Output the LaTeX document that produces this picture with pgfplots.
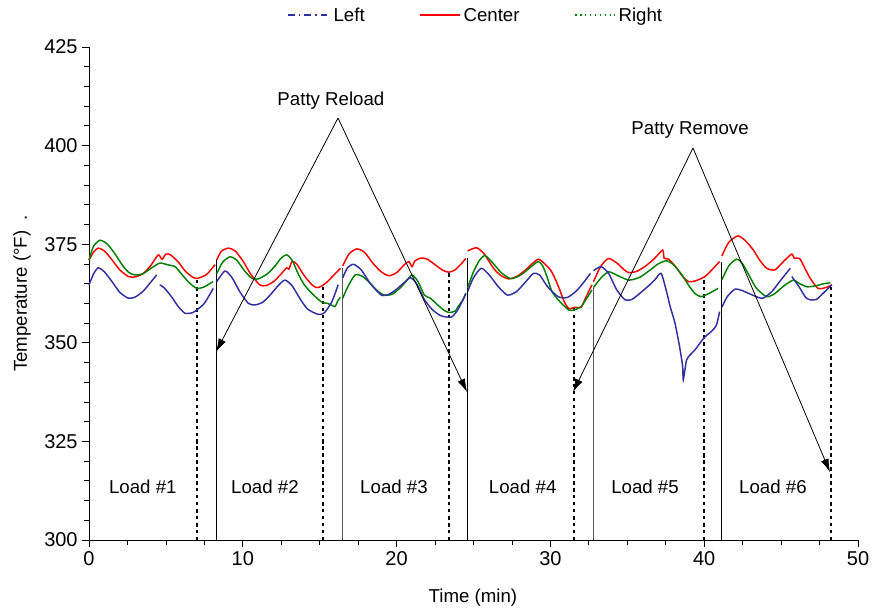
\documentclass[border=0pt]{standalone}
\usepackage{fontspec}
\setmainfont{Liberation Sans}
\usepackage{pgfplots}
\pgfplotsset{compat=1.18}
\usetikzlibrary{calc,arrows.meta}
\definecolor{leftc}{RGB}{48,48,160}
\definecolor{centerc}{RGB}{255,0,0}
\definecolor{rightc}{RGB}{0,128,0}
\begin{document}
\begin{tikzpicture}
\begin{axis}[
  name=ax,
  scale only axis,
  width=576.75pt, height=369.75pt,
  xmin=0, xmax=50, ymin=300, ymax=425,
  axis lines*=left,
  xtick={0,10,20,30,40,50},
  ytick={300,325,350,375,400,425},
  minor x tick num=3,
  minor y tick num=4,
  tick align=outside,
  major tick length=5pt,
  minor tick length=4pt,
  tick style={black, line width=0.6pt},
  axis line style={black, line width=0.6pt},
  font=\fontsize{14}{16.5}\selectfont,
  tick label style={font=\fontsize{15}{17}\selectfont},
  /pgf/number format/assume math mode=true,
  xlabel={Time (min)},
  ylabel={Temperature (°F)\ \ .},
  xlabel style={at={(axis description cs:0.4993,-0.1176)}, anchor=center},
  ylabel style={at={(axis description cs:-0.0871,0.5)}, anchor=center},
  clip=false,
]
% vertical markers: dotted (unload) and solid (reload)
\addplot[black, line width=2pt, dash pattern=on 2.6pt off 2.6pt, forget plot] coordinates {(7.02,300) (7.02,366.3)};
\addplot[black, line width=2pt, dash pattern=on 2.6pt off 2.6pt, forget plot] coordinates {(15.21,300) (15.21,364.4)};
\addplot[black, line width=2pt, dash pattern=on 2.6pt off 2.6pt, forget plot] coordinates {(23.41,300) (23.41,367.9)};
\addplot[black, line width=2pt, dash pattern=on 2.6pt off 2.6pt, forget plot] coordinates {(31.53,300) (31.53,359.0)};
\addplot[black, line width=2pt, dash pattern=on 2.6pt off 2.6pt, forget plot] coordinates {(39.99,300) (39.99,366.8)};
\addplot[black, line width=2pt, dash pattern=on 2.6pt off 2.6pt, forget plot] coordinates {(48.24,300) (48.24,364.7)};
\addplot[black, line width=0.6pt, forget plot] coordinates {(8.26,300) (8.26,371.0)};
\addplot[black, line width=0.6pt, forget plot] coordinates {(16.45,300) (16.45,368.9)};
\addplot[black, line width=0.6pt, forget plot] coordinates {(24.58,300) (24.58,371.4)};
\addplot[black, line width=0.6pt, forget plot] coordinates {(32.77,300) (32.77,363.8)};
\addplot[black, line width=0.6pt, forget plot] coordinates {(41.09,300) (41.09,370.6)};

\pgfplotsset{every axis plot/.append style={line width=1.1pt, smooth, tension=0.4, forget plot}}
% Center (red)
\addplot[centerc] coordinates {(0,371) (0.3,373) (0.6,374) (1.0,373.3) (1.5,371) (2.0,368.5) (2.56,366.8) (3.0,366.7) (3.5,367.5) (4.0,369.5) (4.5,372.3) (4.75,371.2) (5.0,372.5) (5.3,372.3) (5.8,370.5) (6.3,368) (6.8,366.5) (7.0,366.3) (7.4,366.8) (7.7,367.5) (8.0,368.9) (8.2,369.8)};
\addplot[centerc] coordinates {(8.3,371) (8.6,373.2) (9.06,374) (9.5,373.3) (10.0,370.8) (10.5,367.5) (11.1,364.7) (11.5,364.5) (12.0,365.5) (12.5,367.5) (12.85,369) (13.0,368.7) (13.2,370.6) (13.5,370) (14.0,367) (14.5,364.7) (14.8,364) (15.1,364.3) (15.5,365.5) (16.0,367.5) (16.35,368.9)};
\addplot[centerc] coordinates {(16.5,369.5) (16.9,372.5) (17.4,373.8) (17.9,373) (18.5,370) (19.0,368) (19.5,367) (20.0,367.8) (20.5,369.8) (20.8,370.6) (21.0,369.3) (21.2,370.8) (21.6,371.5) (22.0,371.2) (22.5,369.8) (23.0,368.4) (23.4,367.9) (23.8,368.5) (24.2,370) (24.5,371.4)};
\addplot[centerc] coordinates {(24.62,373.3) (25.2,374.1) (25.7,372.5) (26.3,368.9) (26.8,367) (27.3,366.2) (27.8,366.8) (28.3,368.2) (28.8,370) (29.2,371.2) (29.5,370.5) (30.0,368.5) (30.3,366.3) (30.6,363.5) (30.9,360.4) (31.2,358.7) (31.6,359) (32.0,359) (32.3,361.5) (32.7,364.7)};
\addplot[centerc] coordinates {(32.8,365.5) (33.2,368.9) (33.5,370.5) (33.8,371.4) (34.3,370.3) (34.8,368.5) (35.1,367.8) (35.6,368.1) (36.2,369.5) (36.8,371.5) (37.3,373.5) (37.4,371.4) (37.7,371.2) (38.2,369) (38.6,366.8) (39.0,365.5) (39.5,365.8) (40.05,366.8) (40.5,368.5) (41.0,370.6)};
\addplot[centerc] coordinates {(41.15,372) (41.6,375.5) (42.2,377.1) (42.7,375.8) (43.2,373.5) (43.6,371) (44.06,368.9) (44.6,368.5) (45.2,370.8) (45.7,372.5) (45.85,371.4) (46.2,371.4) (46.6,368.5) (46.9,366.3) (47.4,363.8) (47.9,364) (48.3,364.7)};
% Right (green)
\addplot[rightc] coordinates {(0,371) (0.3,374.5) (0.72,376) (1.2,375) (1.7,372.5) (2.2,369.5) (2.6,367.8) (3.0,367.2) (3.5,367.5) (4.0,368.8) (4.6,370.2) (5.1,369.8) (5.6,369.3) (6.0,367.5) (6.5,365.3) (7.0,363.8) (7.5,364.2) (8.06,365.5)};
\addplot[rightc] coordinates {(8.3,367.5) (8.7,370.5) (9.17,371.8) (9.6,371) (10.1,368.3) (10.6,366.3) (11.0,366.2) (11.6,367.5) (12.1,369.5) (12.5,371.5) (12.85,372.3) (13.2,371) (13.6,367.5) (14.0,364.7) (14.5,362.5) (15.1,360.4) (15.5,360) (15.8,359.5) (16.0,359.2) (16.2,360.8) (16.35,361.5)};
\addplot[rightc] coordinates {(16.5,361.3) (16.8,364) (17.3,367.2) (17.8,366.8) (18.3,365) (18.8,363) (19.2,362.1) (19.7,362.3) (20.2,363.8) (20.6,365.5) (21.0,367.2) (21.4,365.5) (21.8,362.1) (22.2,361.3) (22.7,359.5) (23.1,358.2) (23.4,357.7) (23.8,358) (24.0,359.2) (24.3,360.8) (24.5,362.6)};
\addplot[rightc] coordinates {(24.62,364) (25.0,368) (25.4,371) (25.75,372.1) (26.2,370.5) (26.8,367.8) (27.4,366.3) (28.0,367) (28.6,368.8) (29.2,370.6) (29.5,369.5) (29.8,366.5) (30.1,363) (30.6,360.5) (31.2,358.3) (31.6,358.4) (32.0,359.2) (32.4,361.5) (32.7,363.4)};
\addplot[rightc] coordinates {(32.8,364) (33.3,366.5) (33.8,368) (34.4,367) (35.1,365.9) (35.8,366.6) (36.5,368.5) (37.0,370) (37.55,370.8) (38.0,369.8) (38.5,367.5) (39.0,364.5) (39.4,362.5) (39.8,361.7) (40.3,362.5) (40.9,363.8)};
\addplot[rightc] coordinates {(41.15,366) (41.6,369.5) (42.1,371.2) (42.5,370) (43.0,366.5) (43.4,363.8) (44.06,361.7) (44.6,362.5) (45.2,364.5) (45.8,365.9) (46.2,365) (46.7,364.2) (47.3,364.5) (47.8,365) (48.2,365.2)};
% Left (blue)
\addplot[leftc] coordinates {(0,364.7) (0.3,367.5) (0.6,369) (1.0,368) (1.5,365.5) (2.0,362.8) (2.56,361.3) (3.0,361.6) (3.5,363) (4.0,365.3) (4.4,367.2)};
\addplot[leftc] coordinates {(4.6,364.7) (4.9,363.9) (5.4,361.5) (5.8,359.2) (6.24,357.5) (6.7,357.6) (7.0,358.3) (7.5,360) (8.08,363.8)};
\addplot[leftc] coordinates {(8.3,365.5) (8.84,368.2) (9.3,366.5) (9.8,363) (10.36,360) (10.8,359.6) (11.3,360.3) (11.8,362.2) (12.3,364.5) (12.74,365.9) (13.2,364.5) (13.7,361.3) (14.2,358.6) (14.9,357.2) (15.3,357.6) (15.8,360.5) (16.2,364.7)};
\addplot[leftc] coordinates {(16.5,366.5) (16.8,369) (17.2,369.9) (17.7,368.5) (18.3,365) (19.0,362.1) (19.5,362.3) (20.0,363.6) (20.5,365.3) (20.9,366.5) (21.3,365) (21.8,361) (22.3,358.5) (22.8,357) (23.15,356.6) (23.6,356.6) (24.0,358.5) (24.5,362.4)};
\addplot[leftc] coordinates {(24.62,363) (25.0,366.5) (25.5,368.9) (26.0,367.3) (26.6,364.3) (27.2,362.1) (27.8,363) (28.4,365.5) (28.9,367.6) (29.3,367.2) (29.8,364.3) (30.5,361.7) (31.1,361.5) (31.7,363.2) (32.2,365.5) (32.6,367.6)};
\addplot[leftc] coordinates {(32.8,368.3) (33.3,369.3) (33.8,367.5) (34.3,363.5) (34.85,360.9) (35.3,361) (35.8,362.5) (36.4,364.5) (36.8,366) (37.2,367.6) (37.55,363) (37.8,359) (38.1,355) (38.4,349) (38.6,344) (38.64,340.6) (38.85,345.6) (39.1,347) (39.4,348.2) (39.7,349.8) (40.05,351.5) (40.5,353) (40.8,354.5) (41.0,357.9)};
\addplot[leftc] coordinates {(41.15,359) (41.5,361.7) (42.0,363.6) (42.5,363.2) (43.2,362) (43.8,361.3) (44.4,363) (45.0,366) (45.6,368.9)};
\addplot[leftc] coordinates {(45.7,366.8) (46.2,364) (46.6,361.5) (46.9,360.9) (47.3,361) (47.8,362.8) (48.3,364.7)};

% legend (drawn manually above the plot)
\draw[leftc, line width=1.1pt, dash pattern=on 5pt off 3pt on 1.2pt off 3pt] (axis description cs:0.2588,1.0649) -- (axis description cs:0.3134,1.0649);
\node[anchor=base west, inner sep=0pt, xshift=2.5pt] at (axis description cs:0.3134,1.0513) {Left};
\draw[centerc, line width=1.1pt] (axis description cs:0.4304,1.0649) -- (axis description cs:0.4824,1.0649);
\node[anchor=base west, inner sep=0pt, xshift=2.5pt] at (axis description cs:0.4824,1.0513) {Center};
\draw[rightc, line width=1.1pt, dash pattern=on 1.2pt off 2.5pt] (axis description cs:0.6320,1.0649) -- (axis description cs:0.6840,1.0649);
\node[anchor=base west, inner sep=0pt, xshift=2.5pt] at (axis description cs:0.6840,1.0513) {Right};

% annotations
\draw[line width=0.6pt, -{Latex[length=10pt,width=6pt]}] (axis cs:16.19,407) -- (axis cs:8.26,347.7);
\draw[line width=0.6pt, -{Latex[length=10pt,width=6pt]}] (axis cs:16.19,407) -- (axis cs:24.58,337.5);
\draw[line width=0.6pt, -{Latex[length=10pt,width=6pt]}] (axis cs:39.27,399.4) -- (axis cs:31.47,337.5);
\draw[line width=0.6pt, -{Latex[length=10pt,width=6pt]}] (axis cs:39.27,399.4) -- (axis cs:48.18,317.2);
\node at (axis cs:15.73,411.4) {Patty Reload};
\node at (axis cs:39.08,404) {Patty Remove};
\node at (axis cs:3.5,313.4) {Load \#1};
\node at (axis cs:11.44,313.4) {Load \#2};
\node at (axis cs:19.83,313.4) {Load \#3};
\node at (axis cs:28.2,313.4) {Load \#4};
\node at (axis cs:36.15,313.4) {Load \#5};
\node at (axis cs:44.47,313.4) {Load \#6};
\coordinate (bl) at (rel axis cs:0,0);
\coordinate (tr) at (rel axis cs:1,1);
\end{axis}
\pgfresetboundingbox
\path ($(bl)+(-66.75pt,-53.25pt)$) rectangle ($(tr)+(21.75pt,35.25pt)$);
\end{tikzpicture}
\end{document}
